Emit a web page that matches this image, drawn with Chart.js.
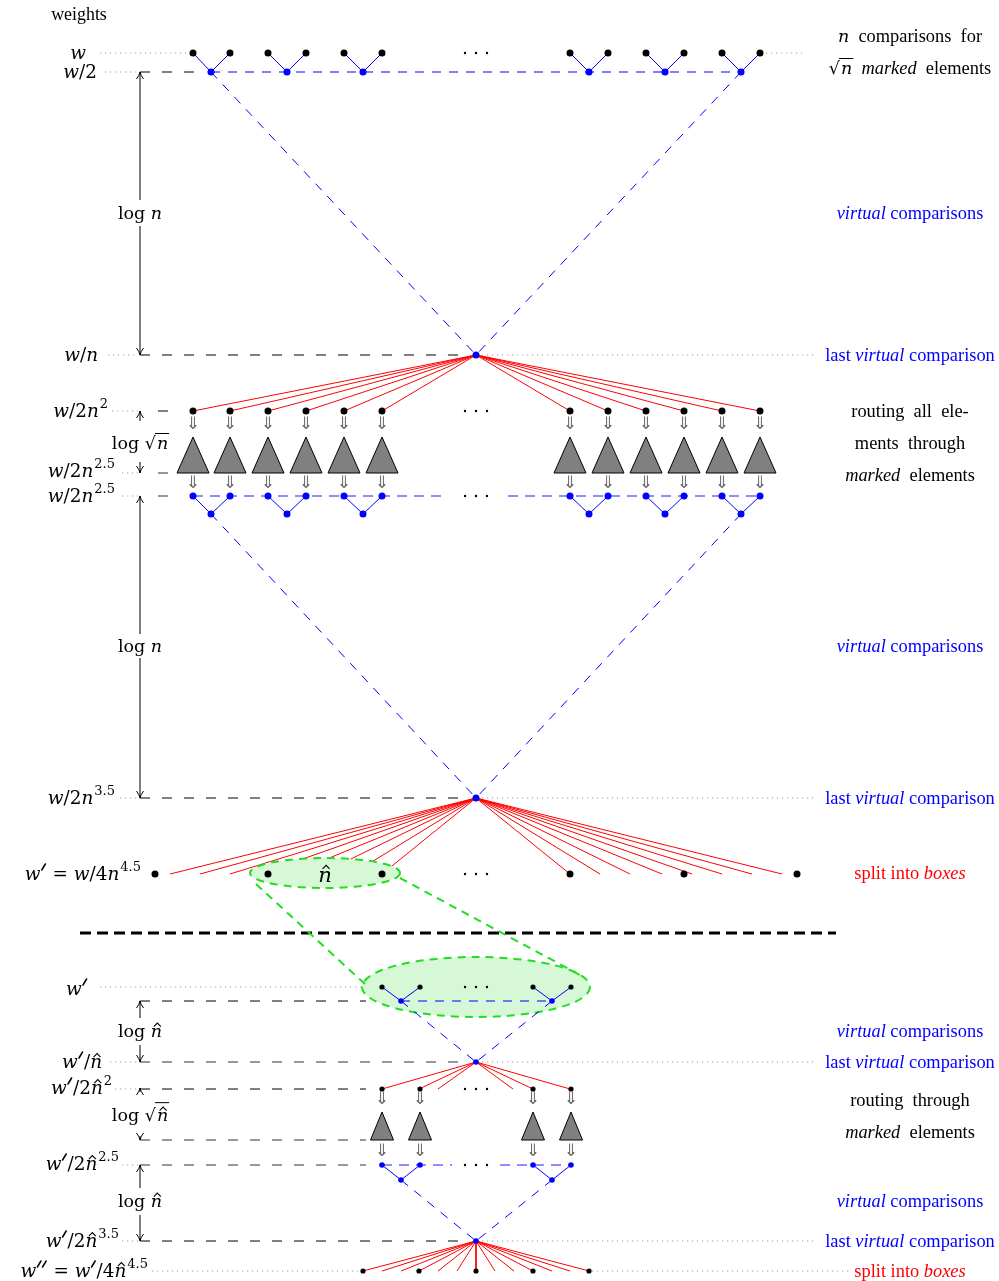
<!DOCTYPE html>
<html>
<head>
<meta charset="utf-8">
<script src="https://cdn.jsdelivr.net/npm/chart.js@4.4.1/dist/chart.umd.min.js"></script>
<style>
  html, body { margin: 0; padding: 0; background: #fff; }
  #wrap { width: 999px; height: 1281px; }
</style>
</head>
<body>
<div id="wrap"><canvas id="diagram" width="999" height="1281"></canvas></div>
<script>
// node positions of the diagram (x in page px, rows below)
const CX = 476;
const topLeafX = [193, 230, 268, 306, 344, 382, 570, 608, 646, 684, 722, 760];
const topMidX = [211, 287, 363, 589, 665, 741];
const boxEndX = [170, 200, 230, 260, 290, 320, 352, 382, 570, 600, 630, 662, 692, 722, 752, 782];
const boxDotX = [155, 268, 382, 570, 684, 797];
const subLeafX = [382, 420, 533, 571];
const subMidX = [401, 552];
const subFanX = [382, 419, 438, 513, 533, 570];
const splitFanX = [363, 382, 401, 419, 438, 457, 476, 495, 514, 533, 552, 570, 589];
const splitDotX = [363, 419, 476, 533, 589];
const ellipsisX = [465, 476, 487];
const ellipsisY = [53, 411, 496, 874, 987, 1089, 1165];

// rows
const Y = {
  w: 53, half: 72, wn: 355, r2: 411, dbl1: 425, triTop: 437, r25a: 473, dbl2: 484,
  r25: 496, m25: 514, r35: 798, box: 874, cut: 933, wp: 987, wpHalf: 1001, wpn: 1062,
  s2: 1089, sdbl1: 1100, striTop: 1112, striBase: 1140, sdbl2: 1152, s25: 1165,
  sm: 1180, s35: 1241, wpp: 1271
};

// labels: runs are [style, text]
// math: r roman, i italic, p superscript, h hat, q sqrt, qh sqrt+hat, k primes; text: t roman, e italic
const leftLabels = [
  [[['i', 'w']], 86, 53],
  [[['i', 'w'], ['r', '/2']], 97, 72],
  [[['i', 'w'], ['r', '/'], ['i', 'n']], 98, 355],
  [[['i', 'w'], ['r', '/2'], ['i', 'n'], ['p', '2']], 108, 411],
  [[['i', 'w'], ['r', '/2'], ['i', 'n'], ['p', '2.5']], 115, 471],
  [[['i', 'w'], ['r', '/2'], ['i', 'n'], ['p', '2.5']], 115, 496],
  [[['i', 'w'], ['r', '/2'], ['i', 'n'], ['p', '3.5']], 115, 798],
  [[['i', 'w'], ['k', '\u2032'], ['r', ' = '], ['i', 'w'], ['r', '/4'], ['i', 'n'], ['p', '4.5']], 141, 874],
  [[['i', 'w'], ['k', '\u2032']], 88, 989],
  [[['i', 'w'], ['k', '\u2032'], ['r', '/'], ['h', 'n']], 102, 1062],
  [[['i', 'w'], ['k', '\u2032'], ['r', '/2'], ['h', 'n'], ['p', '2']], 112, 1088],
  [[['i', 'w'], ['k', '\u2032'], ['r', '/2'], ['h', 'n'], ['p', '2.5']], 119, 1164],
  [[['i', 'w'], ['k', '\u2032'], ['r', '/2'], ['h', 'n'], ['p', '3.5']], 119, 1241],
  [[['i', 'w'], ['k', '\u2032\u2032'], ['r', ' = '], ['i', 'w'], ['k', '\u2032'], ['r', '/4'], ['h', 'n'], ['p', '4.5']], 148, 1271]
];
const centerLabels = [
  [[['t', 'weights']], 79, 14, 18.5],
  [[['r', 'log '], ['i', 'n']], 140, 213, 19],
  [[['r', 'log '], ['q', 'n']], 140, 443, 19],
  [[['r', 'log '], ['i', 'n']], 140, 646, 19],
  [[['r', 'log '], ['h', 'n']], 140, 1031, 19],
  [[['r', 'log '], ['qh', 'n']], 140, 1115, 19],
  [[['r', 'log '], ['h', 'n']], 140, 1201, 19],
  [[['h', 'n']], 325, 875, 23]
];
const virt = [['e', 'virtual'], ['t', ' comparisons']];
const lastVirt = [['t', 'last '], ['e', 'virtual'], ['t', ' comparison']];
const split = [['t', 'split into '], ['e', 'boxes']];
const rightLabels = [
  [[['i', 'n'], ['t', '  comparisons  for']], 36, '#000'],
  [[['q', 'n'], ['t', '  '], ['e', 'marked'], ['t', '  elements']], 68, '#000'],
  [virt, 213, '#0000ff'],
  [lastVirt, 355, '#0000ff'],
  [[['t', 'routing  all  ele-']], 411, '#000'],
  [[['t', 'ments  through']], 443, '#000'],
  [[['e', 'marked'], ['t', '  elements']], 475, '#000'],
  [virt, 646, '#0000ff'],
  [lastVirt, 798, '#0000ff'],
  [split, 873, '#ff0000'],
  [virt, 1031, '#0000ff'],
  [lastVirt, 1062, '#0000ff'],
  [[['t', 'routing  through']], 1100, '#000'],
  [[['e', 'marked'], ['t', '  elements']], 1132, '#000'],
  [virt, 1201, '#0000ff'],
  [lastVirt, 1241, '#0000ff'],
  [split, 1271, '#ff0000']
];

// vertical measuring arrows at x = 140: [from, to(tip)]
const arrowX = 140;
const arrows = [[200, 72], [226, 355], [421, 411], [462, 473], [634, 496], [658, 798],
  [1018, 1001], [1045, 1062], [1092, 1088], [1136, 1140], [1188, 1165], [1215, 1241]];

// ---------- helpers to build datasets ----------
function segs(list) {
  const d = [];
  list.forEach(s => { d.push({x: s[0], y: s[1]}, {x: s[2], y: s[3]}, {x: null, y: null}); });
  return d;
}
function hline(y, x1, x2) { return [x1, y, x2, y]; }
function fan(cx, cy, xs, y) { return xs.map(x => [cx, cy, x, y]); }
function pairs(leaves, mids, y1, y2) {
  const out = [];
  mids.forEach((m, k) => {
    out.push([leaves[2 * k], y1, m, y2], [leaves[2 * k + 1], y1, m, y2]);
  });
  return out;
}
function pts(xs, y) { return xs.map(x => ({x, y})); }

function lineSet(label, data, color, width, dash, order) {
  return {label, data, showLine: true, borderColor: color, borderWidth: width, borderDash: dash,
    pointRadius: 0, pointHoverRadius: 0, fill: false, spanGaps: false, order};
}
function dotSet(label, data, color, r, order) {
  return {label, data, showLine: false, backgroundColor: color, borderColor: color,
    pointRadius: r, pointBorderWidth: 0, pointHoverRadius: r, order};
}

const redLines = [].concat(
  fan(CX, Y.wn, topLeafX, Y.r2),
  fan(CX, Y.r35, boxEndX, Y.box),
  fan(CX, Y.wpn, subFanX, Y.s2),
  fan(CX, Y.s35, splitFanX, Y.wpp)
);
const blueSolid = [].concat(
  pairs(topLeafX, topMidX, Y.w, Y.half),
  pairs(topLeafX, topMidX, Y.r25, Y.m25),
  pairs(subLeafX, subMidX, Y.wp, Y.wpHalf),
  pairs(subLeafX, subMidX, Y.s25, Y.sm)
);
const blueDashed = [
  hline(Y.half, topMidX[0], topMidX[5]),
  [topMidX[0], Y.half, CX, Y.wn], [topMidX[5], Y.half, CX, Y.wn],
  [topMidX[0], Y.m25, CX, Y.r35], [topMidX[5], Y.m25, CX, Y.r35],
  hline(Y.wpHalf, subMidX[0], subMidX[1]),
  [subMidX[0], Y.wpHalf, CX, Y.wpn], [subMidX[1], Y.wpHalf, CX, Y.wpn],
  [subMidX[0], Y.sm, CX, Y.s35], [subMidX[1], Y.sm, CX, Y.s35]
];
const lightBlueDashed = [
  hline(Y.r25, 193, 446), hline(Y.r25, 508, 760),
  hline(Y.s25, 382, 452), hline(Y.s25, 500, 571)
];
const blackDashed = [
  hline(Y.half, 140, 206), hline(Y.wn, 140, 470), hline(Y.r2, 158, 180),
  hline(Y.r35, 140, 470), hline(Y.wpHalf, 140, 366), hline(Y.s2, 140, 366),
  hline(Y.s35, 140, 470)
];
const grayDashed = [
  hline(Y.r25a, 158, 174), hline(Y.r25, 158, 174), hline(Y.wpn, 140, 470),
  hline(Y.striBase, 140, 366), hline(Y.s25, 140, 366)
];
const grayDotted = [
  hline(Y.w, 100, 188), hline(Y.w, 766, 802), hline(Y.half, 105, 138),
  hline(Y.wn, 108, 138), hline(Y.wn, 482, 816), hline(Y.r2, 112, 138),
  hline(Y.r25a, 122, 138), hline(Y.r25, 122, 138), hline(Y.r35, 120, 138),
  hline(Y.r35, 482, 816), hline(Y.wp, 100, 362), hline(Y.wpn, 110, 138),
  hline(Y.wpn, 482, 816), hline(Y.s2, 115, 138), hline(Y.s25, 122, 138),
  hline(Y.s35, 122, 138), hline(Y.s35, 482, 816), hline(Y.wpp, 152, 360),
  hline(Y.wpp, 592, 850)
];
const greenLinks = [[256, 884, 366, 985], [400, 878, 580, 975]];
const cutLine = [hline(Y.cut, 80, 836)];

const ellipses = [[325, 873, 75, 15], [476, 987, 114, 30]];

const datasets = [
  dotSet('ellipsis', [].concat(...ellipsisY.map(y => pts(ellipsisX, y))), '#000', 1.2, 0),
  dotSet('big black', [].concat(pts(topLeafX, Y.w), pts(topLeafX, Y.r2), pts(boxDotX, Y.box)), '#000', 3.5, 0),
  dotSet('big blue', [].concat(pts(topMidX, Y.half), pts(topLeafX, Y.r25), pts(topMidX, Y.m25),
    pts([CX], Y.wn), pts([CX], Y.r35)), '#0000ff', 3.5, 0),
  dotSet('small black', [].concat(pts(subLeafX, Y.wp), pts(subLeafX, Y.s2), pts(splitDotX, Y.wpp)), '#000', 2.6, 0),
  dotSet('small blue', [].concat(pts(subMidX, Y.wpHalf), pts([CX], Y.wpn), pts(subLeafX, Y.s25),
    pts(subMidX, Y.sm), pts([CX], Y.s35)), '#0000ff', 2.8, 0),
  lineSet('blue solid', segs(blueSolid), '#0000ff', 1, [], 6),
  lineSet('blue dashed', segs(blueDashed), '#0000ff', 1, [9, 8], 6),
  lineSet('light blue dashed', segs(lightBlueDashed), '#6a6aff', 1.6, [10, 7], 6),
  lineSet('green links', segs(greenLinks), '#22dd22', 2, [8, 6], 7),
  lineSet('cut', segs(cutLine), '#000', 3, [11, 6], 8),
  lineSet('black dashed', segs(blackDashed), '#000', 1, [10, 12], 8),
  lineSet('gray dashed', segs(grayDashed), '#777', 1.6, [10, 12], 8),
  lineSet('gray dotted', segs(grayDotted), '#999', 1, [1.2, 3.8], 8),
  lineSet('red fans', segs(redLines), '#ff0000', 1, [], 10)
];

// ---------- drawing extras through the chart scales ----------
const MATH = "'DejaVu Serif',serif";
const TEXT = "'Liberation Serif','DejaVu Serif',serif";
function fontFor(style, size) {
  if (style === 't') return (size * 0.97).toFixed(1) + 'px ' + TEXT;
  if (style === 'e') return 'italic ' + (size * 0.97).toFixed(1) + 'px ' + TEXT;
  if (style === 'r') return (size * 0.92).toFixed(1) + 'px ' + MATH;
  if (style === 'p') return Math.round(size * 0.64) + 'px ' + MATH;
  return 'italic ' + (size * 0.92).toFixed(1) + 'px ' + MATH;
}
function runWidth(ctx, run, size) {
  const [st, t] = run;
  if (st === 'k') return t.length * size * 0.26 + 1;
  if (st === 'q' || st === 'qh') {
    ctx.font = fontFor('r', size); const a = ctx.measureText('\u221A').width;
    ctx.font = fontFor('i', size); return a + ctx.measureText(t).width + 1;
  }
  ctx.font = fontFor(st, size);
  return ctx.measureText(t).width + (st === 'p' ? 1 : 0);
}
function drawHat(ctx, cx, top, color) {
  ctx.save(); ctx.strokeStyle = color; ctx.lineWidth = 1.1; ctx.setLineDash([]);
  ctx.beginPath(); ctx.moveTo(cx - 3.5, top + 3.5); ctx.lineTo(cx, top); ctx.lineTo(cx + 3.5, top + 3.5); ctx.stroke();
  ctx.restore();
}
function drawPrimes(ctx, x0, base, n, size, color) {
  ctx.save(); ctx.strokeStyle = color; ctx.lineWidth = 1.5; ctx.setLineDash([]); ctx.lineCap = 'round';
  for (let k = 0; k < n; k++) {
    const x = x0 + k * size * 0.26;
    ctx.beginPath(); ctx.moveTo(x + 1.2, base - size * 0.5); ctx.lineTo(x + size * 0.24, base - size * 0.8); ctx.stroke();
  }
  ctx.restore();
}
function drawRich(ctx, runs, x, y, align, color, size) {
  const widths = runs.map(r => runWidth(ctx, r, size));
  const total = widths.reduce((a, b) => a + b, 0);
  let cur = align === 'right' ? x - total : align === 'center' ? x - total / 2 : x;
  const base = y + size * 0.3;
  ctx.fillStyle = color; ctx.textBaseline = 'alphabetic'; ctx.textAlign = 'left';
  runs.forEach((run, i) => {
    const [st, t] = run;
    if (st === 'k') {
      drawPrimes(ctx, cur, base, t.length, size, color);
    } else if (st === 'p') {
      ctx.font = fontFor('p', size); ctx.fillText(t, cur + 1, base - size * 0.45);
    } else if (st === 'q' || st === 'qh') {
      ctx.font = fontFor('r', size); const a = ctx.measureText('\u221A').width;
      ctx.fillText('\u221A', cur, base);
      ctx.font = fontFor('i', size); const w = ctx.measureText(t).width;
      ctx.fillText(t, cur + a + 1, base);
      const top = st === 'qh' ? base - size * 0.95 : base - size * 0.8;
      ctx.save(); ctx.strokeStyle = color; ctx.lineWidth = 1; ctx.setLineDash([]);
      ctx.beginPath(); ctx.moveTo(cur + a - 1, top); ctx.lineTo(cur + a + w + 2, top); ctx.stroke();
      ctx.restore();
      if (st === 'qh') drawHat(ctx, cur + a + 1 + w * 0.55, base - size * 0.72, color);
    } else {
      ctx.font = fontFor(st, size); ctx.fillText(t, cur, base);
      if (st === 'h') drawHat(ctx, cur + widths[i] * 0.58, base - size * 0.72, color);
    }
    cur += widths[i];
  });
}

const extras = {
  id: 'diagramExtras',
  beforeDatasetDraw(chart, args) {
    if (chart.data.datasets[args.index].label !== 'green links') return;
    const {ctx, scales: {x, y}} = chart;
    ctx.save();
    ellipses.forEach(e => {
      const cx = x.getPixelForValue(e[0]), cy = y.getPixelForValue(e[1]);
      const rx = x.getPixelForValue(e[0] + e[2]) - cx, ry = Math.abs(y.getPixelForValue(e[1] + e[3]) - cy);
      ctx.beginPath(); ctx.ellipse(cx, cy, rx, ry, 0, 0, Math.PI * 2);
      ctx.fillStyle = '#d6f8d6'; ctx.fill();
      ctx.setLineDash([8, 6]); ctx.lineWidth = 2; ctx.strokeStyle = '#22dd22'; ctx.stroke();
    });
    ctx.restore();
  },
  afterDatasetsDraw(chart) {
    const {ctx, scales: {x, y}} = chart;
    const px = v => x.getPixelForValue(v), py = v => y.getPixelForValue(v);
    ctx.save();
    // triangles (routing trees)
    const tri = (cx, top, base, hw) => {
      ctx.beginPath(); ctx.moveTo(px(cx - hw), py(base)); ctx.lineTo(px(cx), py(top));
      ctx.lineTo(px(cx + hw), py(base)); ctx.closePath();
      ctx.fillStyle = '#808080'; ctx.fill(); ctx.lineWidth = 1; ctx.strokeStyle = '#000'; ctx.stroke();
    };
    topLeafX.forEach(lx => tri(lx, Y.triTop, Y.r25a, 16));
    subLeafX.forEach(lx => tri(lx, Y.striTop, Y.striBase, 11.5));
    // double arrows
    ctx.font = "17px 'DejaVu Sans'"; ctx.fillStyle = '#666'; ctx.textAlign = 'center'; ctx.textBaseline = 'middle';
    topLeafX.forEach(lx => { ctx.fillText('\u21D3', px(lx), py(Y.dbl1)); ctx.fillText('\u21D3', px(lx), py(Y.dbl2)); });
    subLeafX.forEach(lx => { ctx.fillText('\u21D3', px(lx), py(Y.sdbl1)); ctx.fillText('\u21D3', px(lx), py(Y.sdbl2)); });
    // measuring arrows
    ctx.strokeStyle = '#000'; ctx.lineWidth = 1; ctx.setLineDash([]);
    arrows.forEach(([a, b]) => {
      const ax = px(arrowX), y1 = py(a), y2 = py(b), dir = y2 > y1 ? 1 : -1;
      ctx.beginPath(); ctx.moveTo(ax, y1); ctx.lineTo(ax, y2); ctx.stroke();
      ctx.beginPath(); ctx.moveTo(ax - 3.5, y2 - dir * 7); ctx.quadraticCurveTo(ax - 0.5, y2 - dir * 3, ax, y2);
      ctx.quadraticCurveTo(ax + 0.5, y2 - dir * 3, ax + 3.5, y2 - dir * 7); ctx.stroke();
    });
    // texts
    leftLabels.forEach(([runs, xr, yy]) => drawRich(ctx, runs, px(xr), py(yy), 'right', '#000', 20));
    centerLabels.forEach(([runs, xc, yy, s]) => drawRich(ctx, runs, px(xc), py(yy), 'center', '#000', s));
    rightLabels.forEach(([runs, yy, col]) => drawRich(ctx, runs, px(910), py(yy), 'center', col, 19));
    ctx.restore();
  }
};

new Chart(document.getElementById('diagram'), {
  type: 'scatter',
  data: { datasets },
  options: {
    responsive: false,
    animation: false,
    events: [],
    layout: { padding: 0, autoPadding: false },
    plugins: { legend: { display: false }, tooltip: { enabled: false } },
    scales: {
      x: { type: 'linear', min: 0, max: 999, display: false },
      y: { type: 'linear', min: 0, max: 1281, reverse: true, display: false }
    }
  },
  plugins: [extras]
});
</script>
</body>
</html>
